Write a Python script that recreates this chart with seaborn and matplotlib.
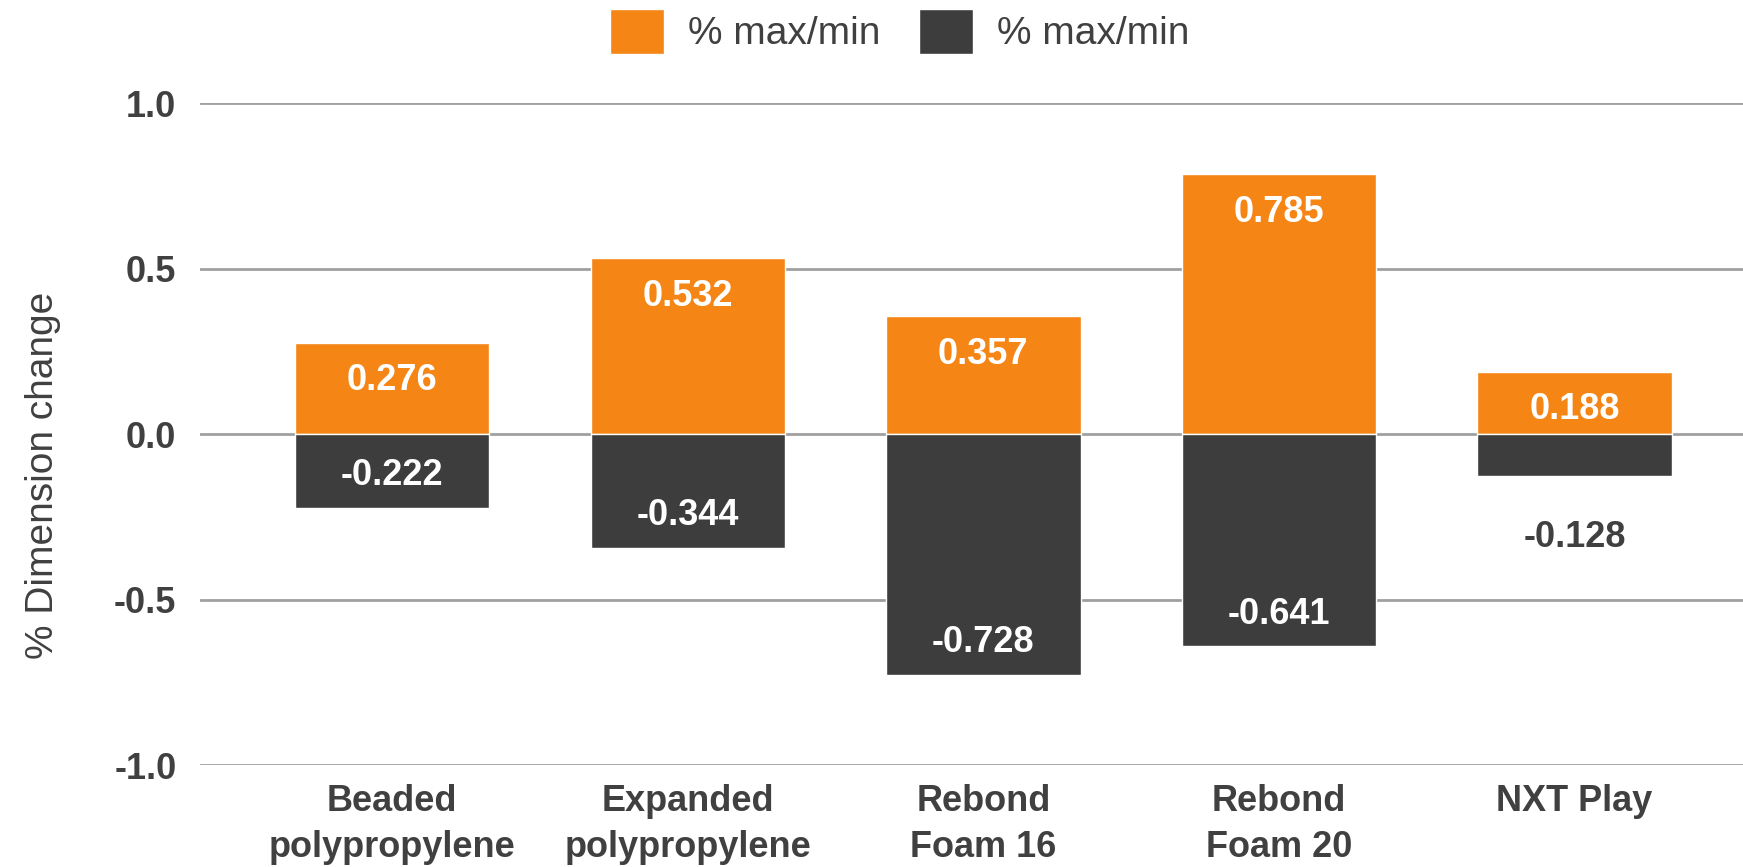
import matplotlib
matplotlib.use("Agg")
import matplotlib.pyplot as plt
import numpy as np
import pandas as pd
import seaborn as sns

materials = ["Beaded\npolypropylene", "Expanded\npolypropylene", "Rebond\nFoam 16",
             "Rebond\nFoam 20", "NXT Play"]
max_vals = [0.276, 0.532, 0.357, 0.785, 0.188]
min_vals = [-0.222, -0.344, -0.728, -0.641, -0.128]
series_labels = ["% max/min", "% max/min"]
colors = ["#F58515", "#3D3D3D"]
yticks = [-1.0, -0.5, 0.0, 0.5, 1.0]

sns.set_theme(style="white")
plt.rcParams["font.family"] = ["Liberation Sans", "DejaVu Sans"]
text_col = "#404040"

df = pd.DataFrame({
    "material": materials * 2,
    "value": max_vals + min_vals,
    "series": ["max"] * len(materials) + ["min"] * len(materials),
})

fig = plt.figure(figsize=(17.43, 8.67), dpi=100)
ax = fig.add_axes([0.1148, 0.1176, 0.8852, 0.7634])

sns.barplot(data=df, x="material", y="value", hue="series", dodge=False,
            palette=colors, width=0.658, ax=ax, legend=False, saturation=1)

ax.set_ylim(-1.0, 1.0)
ax.set_xlim(-0.65, 4.57)
ax.set_yticks(yticks)
ax.set_yticklabels([f"{t:.1f}" for t in yticks], fontsize=26, fontweight="bold", color=text_col)
ax.set_xticks(range(len(materials)))
ax.set_xticklabels(materials, fontsize=26, fontweight="bold", color=text_col, linespacing=1.4)
ax.tick_params(axis="both", length=0)
ax.tick_params(axis="y", pad=17)
ax.tick_params(axis="x", pad=14)
ax.yaxis.grid(True, color="#A0A0A0", linewidth=2)
ax.set_axisbelow(True)
for s in ax.spines.values():
    s.set_visible(False)
ax.set_xlabel("")
ax.set_ylabel("% Dimension change", fontsize=28, color=text_col)
ax.yaxis.set_label_coords(-0.09, 0.437)

# value labels
for i, v in enumerate(max_vals):
    ax.text(i, v - 0.115, f"{v:.3f}", ha="center", va="center", fontsize=26,
            fontweight="bold", color="white")
for i, v in enumerate(min_vals):
    if abs(v) < 0.15:
        ax.text(i, v - 0.185, f"{v:.3f}", ha="center", va="center", fontsize=26,
                fontweight="bold", color=text_col)
    else:
        ax.text(i, v + 0.097, f"{v:.3f}", ha="center", va="center", fontsize=26,
                fontweight="bold", color="white")

handles = [ax.containers[0].patches[0], ax.containers[1].patches[0]]
fig.legend(handles, series_labels, loc="center", bbox_to_anchor=(0.516, 0.964), ncol=2,
           frameon=False, fontsize=28, labelcolor=text_col, handlelength=1.4,
           handleheight=1.4, columnspacing=1.0, handletextpad=0.6)

fig.savefig("out.png", dpi=100, facecolor="white")
